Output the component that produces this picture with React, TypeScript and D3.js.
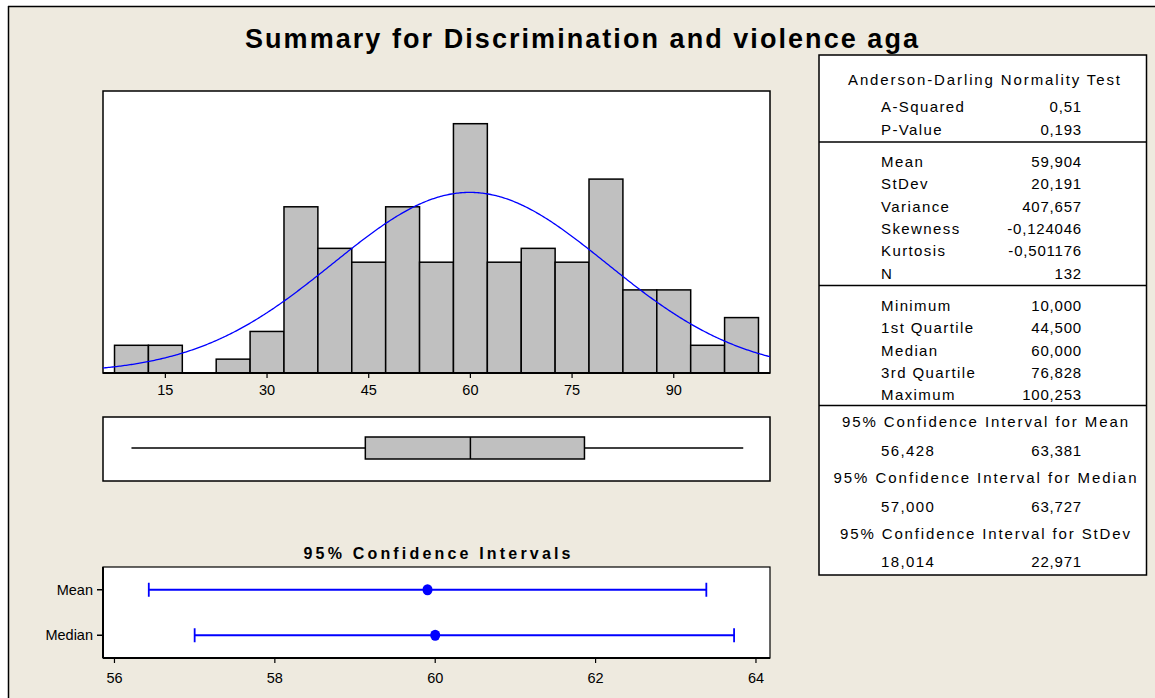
import React from "react";
import * as d3 from "d3";

// ---------- data ----------
const title = "Summary for Discrimination and violence aga";
const binCenters = [10, 15, 20, 25, 30, 35, 40, 45, 50, 55, 60, 65, 70, 75, 80, 85, 90, 95, 100];
const binCounts = [2, 2, 0, 1, 3, 12, 9, 8, 12, 8, 18, 8, 9, 8, 14, 6, 6, 2, 4];
const binWidth = 5;
const histTicks = [15, 30, 45, 60, 75, 90];

const sampleMean = 59.904;
const sampleSd = 20.191;
const sampleN = 132;

const boxMin = 10.0;
const boxQ1 = 44.5;
const boxMedian = 60.0;
const boxQ3 = 76.828;
const boxMax = 100.253;

const ciLabels = ["Mean", "Median"];
const ciLower = [56.428, 57.0];
const ciCenter = [59.904, 60.0];
const ciUpper = [63.381, 63.727];
const ciTicks = [56, 58, 60, 62, 64];
const ciTitle = "95% Confidence Intervals";

const adHeader = "Anderson-Darling Normality Test";
const adLabels = ["A-Squared", "P-Value"];
const adValues = ["0,51", "0,193"];
const momentLabels = ["Mean", "StDev", "Variance", "Skewness", "Kurtosis", "N"];
const momentValues = ["59,904", "20,191", "407,657", "-0,124046", "-0,501176", "132"];
const quantLabels = ["Minimum", "1st Quartile", "Median", "3rd Quartile", "Maximum"];
const quantValues = ["10,000", "44,500", "60,000", "76,828", "100,253"];
const ciHeaders = [
  "95% Confidence Interval for Mean",
  "95% Confidence Interval for Median",
  "95% Confidence Interval for StDev",
];
const ciHeaderWidths = [286, 303, 290];
const ciLowText = ["56,428", "57,000", "18,014"];
const ciHighText = ["63,381", "63,727", "22,971"];

// ---------- styles ----------
const BG = "#EEEADF";
const FONT = "'Liberation Sans', Arial, sans-serif";
const BAR_FILL = "#C0C0C0";
const BLUE = "#0000FF";

export default function App() {
  // histogram
  const hL = 103, hR = 770, hT = 91, hB = 373;
  const x = d3.scaleLinear().domain([5.8, 104.2]).range([hL, hR]);
  const y = d3.scaleLinear().domain([0, (hB - hT) / 13.85]).range([hB, hT]);

  const scale = (sampleN * binWidth) / (sampleSd * Math.sqrt(2 * Math.PI));
  const curvePts = d3.range(5.8, 104.2001, 0.2).map((v) => {
    const z = (v - sampleMean) / sampleSd;
    return [v, scale * Math.exp(-0.5 * z * z)] as [number, number];
  });
  const curve = d3
    .line<[number, number]>()
    .x((d) => x(d[0]))
    .y((d) => y(d[1]))(curvePts);

  // box plot
  const bT = 417, bB = 481;
  const boxTop = 437, boxBot = 459, boxMid = 448;

  // CI plot
  const cL = 103, cR = 770, cT = 567, cB = 658;
  const cx = d3.scaleLinear().domain([55.857, 64.175]).range([cL, cR]);
  const cy = d3.scalePoint<string>().domain(ciLabels).range([cT, cB]).padding(0.5);

  // table
  const tL = 819, tR = 1146.5, tT = 55, tB = 575;
  const labX = 881, valX = 1082, midX = 985;
  const tx = (s: string, xx: number, yy: number, anchor: string, key: string) => (
    <text
      key={key}
      x={xx}
      y={yy + 5}
      textAnchor={anchor as any}
      fontFamily={FONT}
      fontSize={15}
      letterSpacing={anchor === "end" ? 0.8 : 1.4}
      fill="#000"
    >
      {s}
    </text>
  );

  const rowStep = 22.3;

  return (
    <svg
      width={1155}
      height={698}
      style={{ position: "absolute", left: 0, top: 0, display: "block" }}
    >
      <rect x={0} y={0} width={1155} height={698} fill="#fff" />
      <rect x={8} y={6} width={1147} height={692} fill={BG} />
      <line x1={8.5} y1={6} x2={8.5} y2={698} stroke="#000" strokeWidth={1.5} />
      <line x1={8} y1={6.5} x2={1155} y2={6.5} stroke="#000" strokeWidth={1.5} />

      {/* title */}
      <text
        x={581.5}
        y={48}
        textAnchor="middle"
        fontFamily={FONT}
        fontWeight="bold"
        fontSize={27}
        textLength={673}
        lengthAdjust="spacing"
      >
        {title}
      </text>

      {/* histogram */}
      <rect x={hL} y={hT} width={hR - hL} height={hB - hT} fill="#fff" stroke="#000" strokeWidth={1.5} />
      {binCenters.map((c, i) => (
        <rect
          key={"b" + i}
          x={x(c - binWidth / 2)}
          y={y(binCounts[i])}
          width={x(c + binWidth / 2) - x(c - binWidth / 2)}
          height={y(0) - y(binCounts[i])}
          fill={BAR_FILL}
          stroke="#000"
          strokeWidth={binCounts[i] === 0 ? 2.5 : 1.5}
        />
      ))}
      <path d={curve || ""} fill="none" stroke={BLUE} strokeWidth={1.3} />
      <line x1={hL} x2={hR} y1={hB} y2={hB} stroke="#000" strokeWidth={2} />
      {histTicks.map((t) => (
        <g key={"ht" + t}>
          <line x1={x(t)} x2={x(t)} y1={hB} y2={hB + 5} stroke="#000" strokeWidth={1.2} />
          <text x={x(t)} y={395} textAnchor="middle" fontFamily={FONT} fontSize={14.5}>
            {t}
          </text>
        </g>
      ))}

      {/* box plot */}
      <rect x={hL} y={bT} width={hR - hL} height={bB - bT} fill="#fff" stroke="#000" strokeWidth={1.5} />
      <line x1={x(boxMin)} x2={x(boxQ1)} y1={boxMid} y2={boxMid} stroke="#000" strokeWidth={1.5} />
      <line x1={x(boxQ3)} x2={x(boxMax)} y1={boxMid} y2={boxMid} stroke="#000" strokeWidth={1.5} />
      <rect
        x={x(boxQ1)}
        y={boxTop}
        width={x(boxQ3) - x(boxQ1)}
        height={boxBot - boxTop}
        fill={BAR_FILL}
        stroke="#000"
        strokeWidth={1.5}
      />
      <line x1={x(boxMedian)} x2={x(boxMedian)} y1={boxTop} y2={boxBot} stroke="#000" strokeWidth={1.5} />

      {/* CI plot */}
      <text
        x={437}
        y={559}
        textAnchor="middle"
        fontFamily={FONT}
        fontWeight="bold"
        fontSize={16}
        textLength={267}
        lengthAdjust="spacing"
      >
        {ciTitle}
      </text>
      <rect x={cL} y={cT} width={cR - cL} height={cB - cT} fill="#fff" stroke="#000" strokeWidth={1.2} />
      <line x1={cL} x2={cL} y1={cT} y2={cB} stroke="#000" strokeWidth={2} />
      <line x1={cL} x2={cR} y1={cB} y2={cB} stroke="#000" strokeWidth={2} />
      {ciTicks.map((t) => (
        <g key={"ct" + t}>
          <line x1={cx(t)} x2={cx(t)} y1={cB} y2={cB + 5} stroke="#000" strokeWidth={1.2} />
          <text x={cx(t)} y={683} textAnchor="middle" fontFamily={FONT} fontSize={14.5}>
            {t}
          </text>
        </g>
      ))}
      {ciLabels.map((lab, i) => {
        const yy = cy(lab) as number;
        return (
          <g key={"ci" + i}>
            <line x1={cL - 6} x2={cL} y1={yy} y2={yy} stroke="#000" strokeWidth={1.5} />
            <text x={cL - 10} y={yy + 5} textAnchor="end" fontFamily={FONT} fontSize={14.5}>
              {lab}
            </text>
            <line x1={cx(ciLower[i])} x2={cx(ciUpper[i])} y1={yy} y2={yy} stroke={BLUE} strokeWidth={1.8} />
            <line x1={cx(ciLower[i])} x2={cx(ciLower[i])} y1={yy - 7} y2={yy + 7} stroke={BLUE} strokeWidth={1.8} />
            <line x1={cx(ciUpper[i])} x2={cx(ciUpper[i])} y1={yy - 7} y2={yy + 7} stroke={BLUE} strokeWidth={1.8} />
            <ellipse cx={cx(ciCenter[i])} cy={yy} rx={5} ry={5.5} fill={BLUE} />
          </g>
        );
      })}

      {/* stats table */}
      <rect x={tL} y={tT} width={tR - tL} height={tB - tT} fill="#fff" stroke="#000" strokeWidth={1.5} />
      <line x1={tL} x2={tR} y1={142} y2={142} stroke="#000" strokeWidth={1.5} />
      <line x1={tL} x2={tR} y1={285.5} y2={285.5} stroke="#000" strokeWidth={1.5} />
      <line x1={tL} x2={tR} y1={405.5} y2={405.5} stroke="#000" strokeWidth={1.5} />

      <text
        x={984}
        y={85}
        textAnchor="middle"
        fontFamily={FONT}
        fontSize={15}
        textLength={272}
        lengthAdjust="spacing"
      >
        {adHeader}
      </text>
      {adLabels.map((l, i) => tx(l, labX, 107 + i * 22.5, "start", "adl" + i))}
      {adValues.map((v, i) => tx(v, valX, 107 + i * 22.5, "end", "adv" + i))}
      {momentLabels.map((l, i) => tx(l, labX, 162 + i * rowStep, "start", "ml" + i))}
      {momentValues.map((v, i) => tx(v, valX, 162 + i * rowStep, "end", "mv" + i))}
      {quantLabels.map((l, i) => tx(l, labX, 306 + i * rowStep, "start", "ql" + i))}
      {quantValues.map((v, i) => tx(v, valX, 306 + i * rowStep, "end", "qv" + i))}
      {ciHeaders.map((h, i) => (
        <text
          key={"ch" + i}
          x={midX}
          y={422 + i * 56 + 5}
          textAnchor="middle"
          fontFamily={FONT}
          fontSize={15}
          textLength={ciHeaderWidths[i]}
          lengthAdjust="spacing"
        >
          {h}
        </text>
      ))}
      {ciLowText.map((v, i) => tx(v, labX, 451 + i * 55.5, "start", "cl" + i))}
      {ciHighText.map((v, i) => tx(v, valX, 451 + i * 55.5, "end", "chv" + i))}
    </svg>
  );
}
